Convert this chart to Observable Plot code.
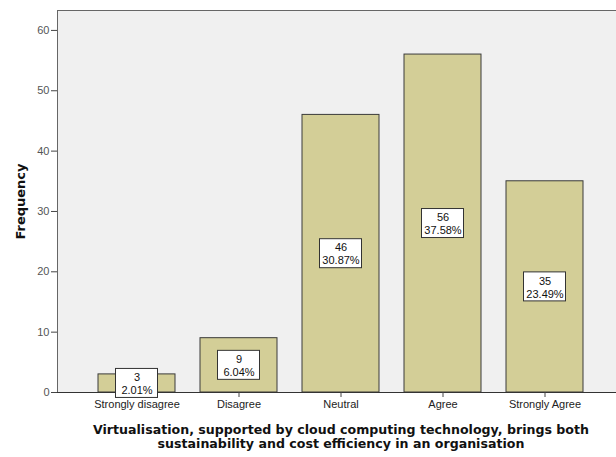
<!DOCTYPE html>
<html><head><meta charset="utf-8">
<script src="https://cdn.jsdelivr.net/npm/d3@7"></script>
<script src="https://cdn.jsdelivr.net/npm/@observablehq/plot@0.6"></script>
<style>body{margin:0;background:#fff}</style>
</head><body><div id="chart"></div>
<script>
const categories = ["Strongly disagree", "Disagree", "Neutral", "Agree", "Strongly Agree"];
const counts = [3, 9, 46, 56, 35];
const percents = ["2.01%", "6.04%", "30.87%", "37.58%", "23.49%"];
const yTicks = [0, 10, 20, 30, 40, 50, 60];
const yTitle = "Frequency";
const xTitle = "Virtualisation, supported by cloud computing technology, brings both\nsustainability and cost efficiency in an organisation";

const data = categories.map((c, i) => ({category: c, count: counts[i], label: counts[i] + "\n" + percents[i]}));

const chart = Plot.plot({
  width: 616, height: 457,
  marginLeft: 57, marginRight: 0, marginTop: 10, marginBottom: 65,
  style: {fontFamily: "'Liberation Sans', Arial, sans-serif", fontSize: "11px", background: "#fff", color: "#222"},
  x: {domain: categories, range: [86, 596], paddingInner: 0.245, paddingOuter: 0.1225, label: null},
  y: {domain: [0, 63.3], label: null},
  marks: [
    Plot.frame({fill: "#f0f0f0", stroke: "#666"}),
    Plot.barY(data, {x: "category", y: "count", fill: "#d3ce97", stroke: "#3a3a3a", strokeWidth: 1}),
    Plot.ruleY([0], {stroke: "#333"}),
    Plot.axisY({ticks: yTicks, tickSize: 6, tickPadding: 2, tickFormat: d => d, fill: "#555", stroke: "#444", label: null}),
    Plot.axisX({tickSize: 5, tickPadding: 3, fill: "#222", stroke: "#444", label: null}),
    Plot.barY(data, {x: "category", y1: d => d.count / 2, y2: d => d.count / 2, fill: "white", stroke: "#333",
      insetTop: -14.5, insetBottom: -14.5, insetLeft: 17.5, insetRight: 17.5}),
    Plot.text(data, {x: "category", y: d => d.count / 2, text: "label", lineHeight: 1.18, fill: "#111", fontSize: 11}),
    Plot.text([yTitle], {frameAnchor: "left", dx: -37, rotate: -90, textAnchor: "middle", fontWeight: "bold", fontSize: 13, fontFamily: "'DejaVu Sans', sans-serif", fill: "#111"}),
    Plot.text([xTitle], {x: () => "Neutral", frameAnchor: "bottom", lineAnchor: "top", dy: 31, lineHeight: 1.15, fontWeight: "bold", fontSize: 12.6, fontFamily: "'DejaVu Sans', sans-serif", fill: "#111"})
  ]
});
document.getElementById("chart").append(chart);
</script>
</body></html>
